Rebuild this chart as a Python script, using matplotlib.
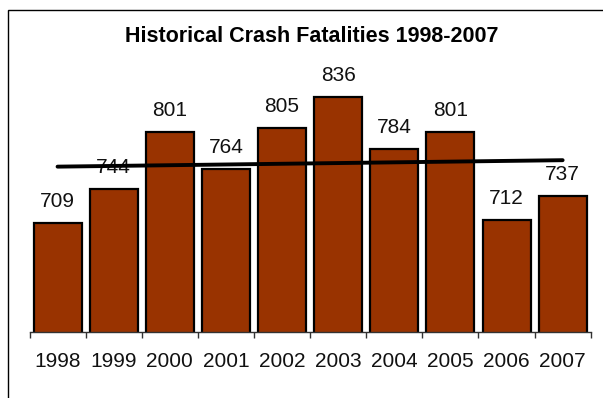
import numpy as np
import matplotlib
matplotlib.use("Agg")
import matplotlib.pyplot as plt
from matplotlib.patches import Rectangle

# data
years = ["1998", "1999", "2000", "2001", "2002", "2003", "2004", "2005", "2006", "2007"]
fatalities = [709, 744, 801, 764, 805, 836, 784, 801, 712, 737]
title = "Historical Crash Fatalities 1998-2007"

plt.rcParams["font.family"] = ["Liberation Sans", "DejaVu Sans"]

fig = plt.figure(figsize=(6.03, 3.98), dpi=100)
W, H = 603, 398

# outer border (only left and top visible in the crop)
fig.patches.append(Rectangle((8 / W, -0.1), 1.2, 1 - 9.5 / H + 0.1, transform=fig.transFigure,
                             fill=False, edgecolor="black", linewidth=1.0))

ax = fig.add_axes([29.5 / W, 1 - 331.7 / H, (590.7 - 29.5) / W, (331.7 - 33.5) / H])

x = np.arange(len(years))
ax.bar(x, fatalities, width=0.855, bottom=0, color="#993300", edgecolor="black",
       linewidth=1.6, zorder=2)

for xi, v in zip(x, fatalities):
    ax.annotate(str(v), (xi, v), xytext=(0, 11.5), textcoords="offset points",
                ha="center", va="baseline", fontsize=15, color="#111111", zorder=3)

# linear trend line
slope, intercept = np.polyfit(x, fatalities, 1)
ax.plot(x[[0, -1]], slope * x[[0, -1]] + intercept, color="black", linewidth=2.8,
        solid_capstyle="round", zorder=4)

ax.set_xlim(-0.5, len(years) - 0.5)
ax.set_ylim(600, 900)

for side in ["left", "top", "right"]:
    ax.spines[side].set_visible(False)
ax.spines["bottom"].set_color("#333333")
ax.spines["bottom"].set_linewidth(1.0)
ax.set_yticks([])

ax.set_xticks(x)
ax.set_xticklabels(years, fontsize=15, color="#111111")
ax.set_xticks(np.arange(len(years) + 1) - 0.5, minor=True)
ax.tick_params(axis="x", which="major", length=0, pad=14.5)
ax.tick_params(axis="x", which="minor", length=4, width=1.0, color="#333333", direction="out")

fig.text(312 / W, 1 - 36 / H, title, ha="center", va="center", fontsize=15.5, fontweight="bold")

fig.savefig("out.png", dpi=100)
